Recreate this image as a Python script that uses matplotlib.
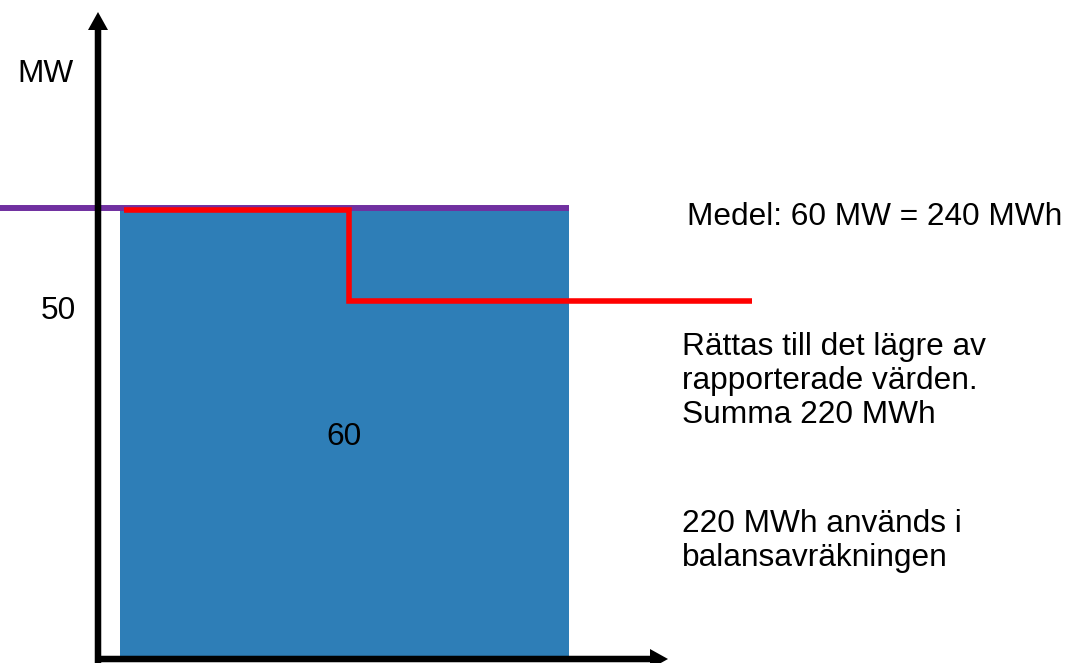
import matplotlib
matplotlib.use("Agg")
import matplotlib.pyplot as plt
import matplotlib.transforms as mtransforms

# ---- data (schematic: hours on x, MW on y) ----
bar_start = 0.0          # h
bar_end = 4.0            # h
bar_value = 60           # MW (reported, 60 MW * 4 h = 240 MWh)
mean_value = 60          # MW
step_times = [0.04, 2.04, 5.63]  # h
step_values = [60, 50, 50]       # MW (corrected, sum 220 MWh)

label_mw = "MW"
label_50 = "50"
label_60 = "60"
text_medel = "Medel: 60 MW = 240 MWh"
text_rattas = ["Rättas till det lägre av", "rapporterade värden.", "Summa 220 MWh"]
text_used = ["220 MWh används i", "balansavräkningen"]

W, H = 1071, 663
fig = plt.figure(figsize=(W / 100, H / 100), dpi=100)
ax = fig.add_axes([0, 0, 1, 1])
ax.set_axis_off()

ppx = 449 / 4.0      # pixels per hour
ppy = 9.1            # pixels per MW
x0 = -120 / ppx
x1 = (W - 120) / ppx
y_top = 60 + 210 / ppy
y_bot = 60 - (H - 210) / ppy
ax.set_xlim(x0, x1)
ax.set_ylim(y_bot, y_top)

axis_y = 60 - (659 - 210) / ppy     # MW level of the drawn x axis
axis_x = (98 - 120) / ppx           # hour level of the drawn y axis

blue = "#2E7EB7"
purple = "#7030A0"
red = "#FF0000"

# bar
ax.bar(bar_start, bar_value - axis_y, width=bar_end - bar_start, bottom=axis_y,
       align="edge", color=blue, zorder=1)

# mean line (purple) slightly above
off = mtransforms.offset_copy(ax.transData, fig=fig, x=0, y=2, units="dots")
ax.plot([x0, bar_end], [mean_value, mean_value], color=purple, lw=4.3,
        solid_capstyle="butt", transform=off, zorder=2)

# corrected step line (red)
ax.step(step_times, step_values, where="post", color=red, lw=4.0,
        solid_capstyle="butt", solid_joinstyle="miter", zorder=3)

# axes with arrows
px2pt = 72 / 100
arrow_kw = dict(width=6.5 * px2pt, headwidth=20 * px2pt, headlength=18 * px2pt,
                shrink=0, facecolor="black", edgecolor="none", lw=0)
ax.annotate("", xy=(axis_x, y_top - 12 / ppy), xytext=(axis_x, y_bot - 2 / ppy),
            arrowprops=arrow_kw, zorder=5)
ax.annotate("", xy=((668 - 120) / ppx, axis_y), xytext=((95 - 120) / ppx, axis_y),
            arrowprops=arrow_kw, zorder=5)

font = dict(family="Liberation Sans", fontsize=22.8, color="black")


def ftext(px, py, s, ha="left"):
    fig.text(px / W, 1 - py / H, s, ha=ha, va="baseline", **font)


ftext(45, 82, label_mw, ha="center")
ftext(58, 319, label_50, ha="center")
ftext(344.5, 445, label_60, ha="center")
ftext(687, 225, text_medel)
for i, s in enumerate(text_rattas):
    ftext(682, 355 + 34 * i, s)
for i, s in enumerate(text_used):
    ftext(682, 532 + 34 * i, s)

fig.savefig("out.png", dpi=100)
